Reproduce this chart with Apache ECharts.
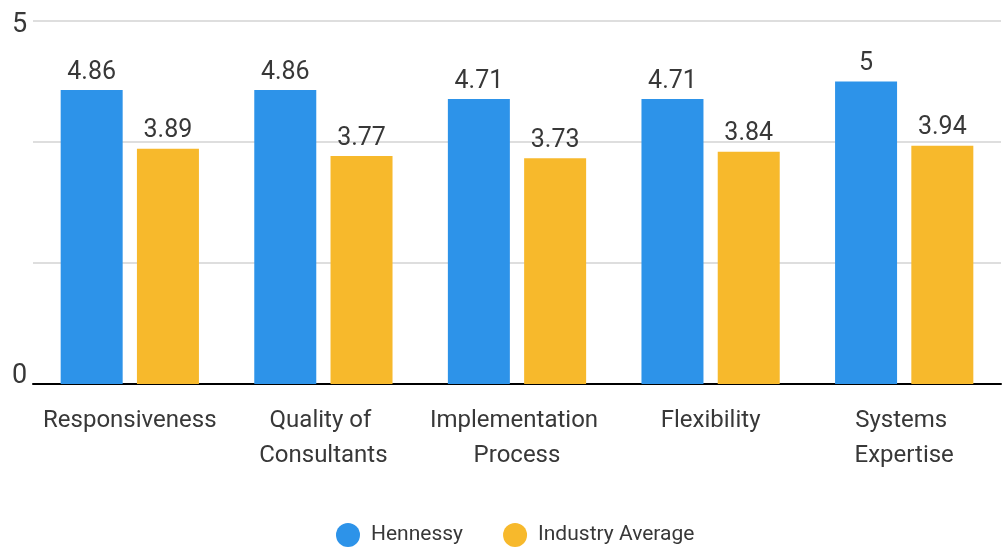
<!DOCTYPE html>
<html>
<head>
<meta charset="utf-8">
<script src="https://cdn.jsdelivr.net/npm/echarts@6/dist/echarts.min.js"></script>
<style>
  html, body { margin: 0; padding: 0; background: #fff; }
  #chart { width: 1008px; height: 550px; }
</style>
</head>
<body>
<div id="chart"></div>
<script>
const categories = ['Responsiveness', 'Quality of Consultants', 'Implementation Process', 'Flexibility', 'Systems Expertise']
const hennessy = [4.86, 4.86, 4.71, 4.71, 5]
const industryAverage = [3.89, 3.77, 3.73, 3.84, 3.94]
const seriesNames = ['Hennessy', 'Industry Average']
const colors = ['#2d93e9', '#f7b92c']

const textColor = '#383838'
const font = 'Roboto'

const chart = echarts.init(document.getElementById('chart'))

const barLabel = {
  show: true,
  position: 'top',
  distance: 5,
  color: textColor,
  fontFamily: font,
  fontSize: 25
}

const option = {
  animation: false,
  color: colors,
  grid: {
    left: 33,
    right: 7,
    top: 21,
    bottom: 166
  },
  legend: {
    bottom: -2,
    left: 331,
    icon: 'circle',
    itemWidth: 24,
    itemHeight: 24,
    itemGap: 40,
    textStyle: {
      color: textColor,
      fontFamily: font,
      fontSize: 21,
      padding: [0, 0, 0, 6]
    }
  },
  xAxis: {
    type: 'category',
    data: categories,
    axisLine: { lineStyle: { color: '#000', width: 2 } },
    axisTick: { alignWithLabel: true, length: 18, lineStyle: { color: '#000', width: 2 } },
    axisLabel: {
      color: textColor,
      fontFamily: font,
      fontSize: 24,
      lineHeight: 35,
      margin: 19,
      width: 185,
      overflow: 'break',
      interval: 0
    }
  },
  yAxis: {
    type: 'value',
    min: 0,
    max: 6,
    interval: 2,
    axisLine: { show: false },
    axisTick: { show: false },
    splitLine: { lineStyle: { color: '#dedede', width: 2 } },
    axisLabel: {
      align: 'left',
      margin: 21,
      color: textColor,
      fontFamily: font,
      fontSize: 27,
      formatter: (v) => {
        if (v === 0) return '{z|0}'
        if (v === 6) return '{t|5}'
        return ''
      },
      rich: {
        z: { fontSize: 27, color: textColor, fontFamily: font, padding: [0, 0, 16, 0] },
        t: { fontSize: 27, color: textColor, fontFamily: font, padding: [8, 0, 0, 0] }
      }
    }
  },
  series: [
    {
      name: seriesNames[0],
      type: 'bar',
      data: hennessy,
      barWidth: 62,
      barGap: '23%',
      label: barLabel
    },
    {
      name: seriesNames[1],
      type: 'bar',
      data: industryAverage,
      barWidth: 62,
      label: barLabel
    }
  ]
}

chart.setOption(option)
</script>
</body>
</html>
